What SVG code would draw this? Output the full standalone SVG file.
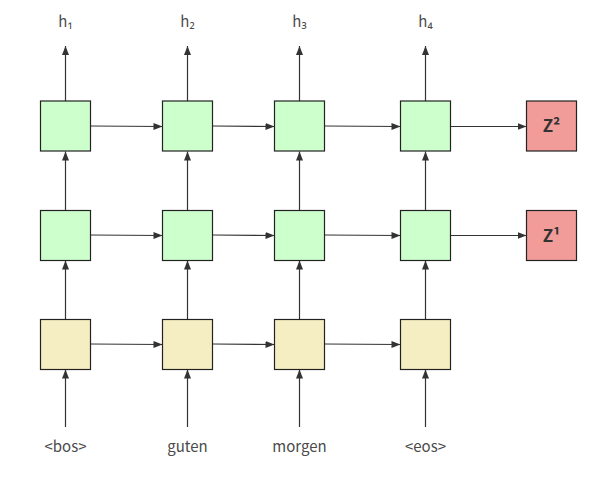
<svg xmlns="http://www.w3.org/2000/svg" width="604" height="478" viewBox="0 0 604 478">
<style>
.g{fill:#ccffcc;stroke:#222;stroke-width:1.2}
.y{fill:#f5eec2;stroke:#222;stroke-width:1.2}
.r{fill:#f19c99;stroke:#222;stroke-width:1.2}
.c{stroke:#333;stroke-width:1.2;fill:none;marker-end:url(#ah)}
.t{font-family:"Noto Sans CJK SC","Open Sans",sans-serif;font-size:15px;fill:#4a4a4a;text-anchor:middle}
.z{font-family:"Noto Sans CJK SC","Open Sans",sans-serif;font-size:17px;font-weight:bold;fill:#333;text-anchor:middle}
</style>
<defs>
<marker id="ah" markerWidth="10" markerHeight="8" refX="9" refY="4" orient="auto" markerUnits="userSpaceOnUse">
<path d="M0,0.5 L9,4 L0,7.5 Z" fill="#333"/>
</marker>
</defs>
<g id="connectors">
<line class="c" x1="65.5" y1="101" x2="65.5" y2="46"/>
<line class="c" x1="187.5" y1="101" x2="187.5" y2="46"/>
<line class="c" x1="299.5" y1="101" x2="299.5" y2="46"/>
<line class="c" x1="425.5" y1="101" x2="425.5" y2="46"/>
<line class="c" x1="65.5" y1="210.5" x2="65.5" y2="151.5"/>
<line class="c" x1="187.5" y1="210.5" x2="187.5" y2="151.5"/>
<line class="c" x1="299.5" y1="210.5" x2="299.5" y2="151.5"/>
<line class="c" x1="425.5" y1="210.5" x2="425.5" y2="151.5"/>
<line class="c" x1="65.5" y1="319.5" x2="65.5" y2="260.5"/>
<line class="c" x1="187.5" y1="319.5" x2="187.5" y2="260.5"/>
<line class="c" x1="299.5" y1="319.5" x2="299.5" y2="260.5"/>
<line class="c" x1="425.5" y1="319.5" x2="425.5" y2="260.5"/>
<line class="c" x1="65.5" y1="427" x2="65.5" y2="369.5"/>
<line class="c" x1="187.5" y1="427" x2="187.5" y2="369.5"/>
<line class="c" x1="299.5" y1="427" x2="299.5" y2="369.5"/>
<line class="c" x1="425.5" y1="427" x2="425.5" y2="369.5"/>
<line class="c" x1="90.5" y1="126" x2="162.5" y2="126.5"/>
<line class="c" x1="212.5" y1="126" x2="274.5" y2="126.5"/>
<line class="c" x1="324.5" y1="126" x2="400.5" y2="126.5"/>
<line class="c" x1="450.5" y1="126.5" x2="526.5" y2="126.5"/>
<line class="c" x1="90.5" y1="235" x2="162.5" y2="235.5"/>
<line class="c" x1="212.5" y1="235" x2="274.5" y2="235.5"/>
<line class="c" x1="324.5" y1="235" x2="400.5" y2="235.5"/>
<line class="c" x1="450.5" y1="235.5" x2="526.5" y2="235.5"/>
<line class="c" x1="90.5" y1="344" x2="162.5" y2="344.5"/>
<line class="c" x1="212.5" y1="344" x2="274.5" y2="344.5"/>
<line class="c" x1="324.5" y1="344" x2="400.5" y2="344.5"/>
</g>
<g id="h1"><text class="t" x="65.5" y="27">h₁</text></g>
<g id="h2"><text class="t" x="187.5" y="27">h₂</text></g>
<g id="h3"><text class="t" x="299.5" y="27">h₃</text></g>
<g id="h4"><text class="t" x="425.5" y="27">h₄</text></g>
<g id="top1"><rect class="g" x="40.5" y="101" width="50" height="50"/></g>
<g id="top2"><rect class="g" x="162.5" y="101" width="50" height="50"/></g>
<g id="top3"><rect class="g" x="274.5" y="101" width="50" height="50"/></g>
<g id="top4"><rect class="g" x="400.5" y="101" width="50" height="50"/></g>
<g id="z2"><rect class="r" x="526.5" y="101" width="50" height="50"/><text class="z" x="551.5" y="132">Z²</text></g>
<g id="mid1"><rect class="g" x="40.5" y="210.5" width="50" height="50"/></g>
<g id="mid2"><rect class="g" x="162.5" y="210.5" width="50" height="50"/></g>
<g id="mid3"><rect class="g" x="274.5" y="210.5" width="50" height="50"/></g>
<g id="mid4"><rect class="g" x="400.5" y="210.5" width="50" height="50"/></g>
<g id="z1"><rect class="r" x="526.5" y="210.5" width="50" height="50"/><text class="z" x="551.5" y="241.5">Z¹</text></g>
<g id="bot1"><rect class="y" x="40.5" y="319.5" width="50" height="50"/></g>
<g id="bot2"><rect class="y" x="162.5" y="319.5" width="50" height="50"/></g>
<g id="bot3"><rect class="y" x="274.5" y="319.5" width="50" height="50"/></g>
<g id="bot4"><rect class="y" x="400.5" y="319.5" width="50" height="50"/></g>
<g id="w1"><text class="t" x="65.5" y="452">&lt;bos&gt;</text></g>
<g id="w2"><text class="t" x="187.5" y="452">guten</text></g>
<g id="w3"><text class="t" x="299.5" y="452">morgen</text></g>
<g id="w4"><text class="t" x="425.5" y="452">&lt;eos&gt;</text></g>
</svg>
